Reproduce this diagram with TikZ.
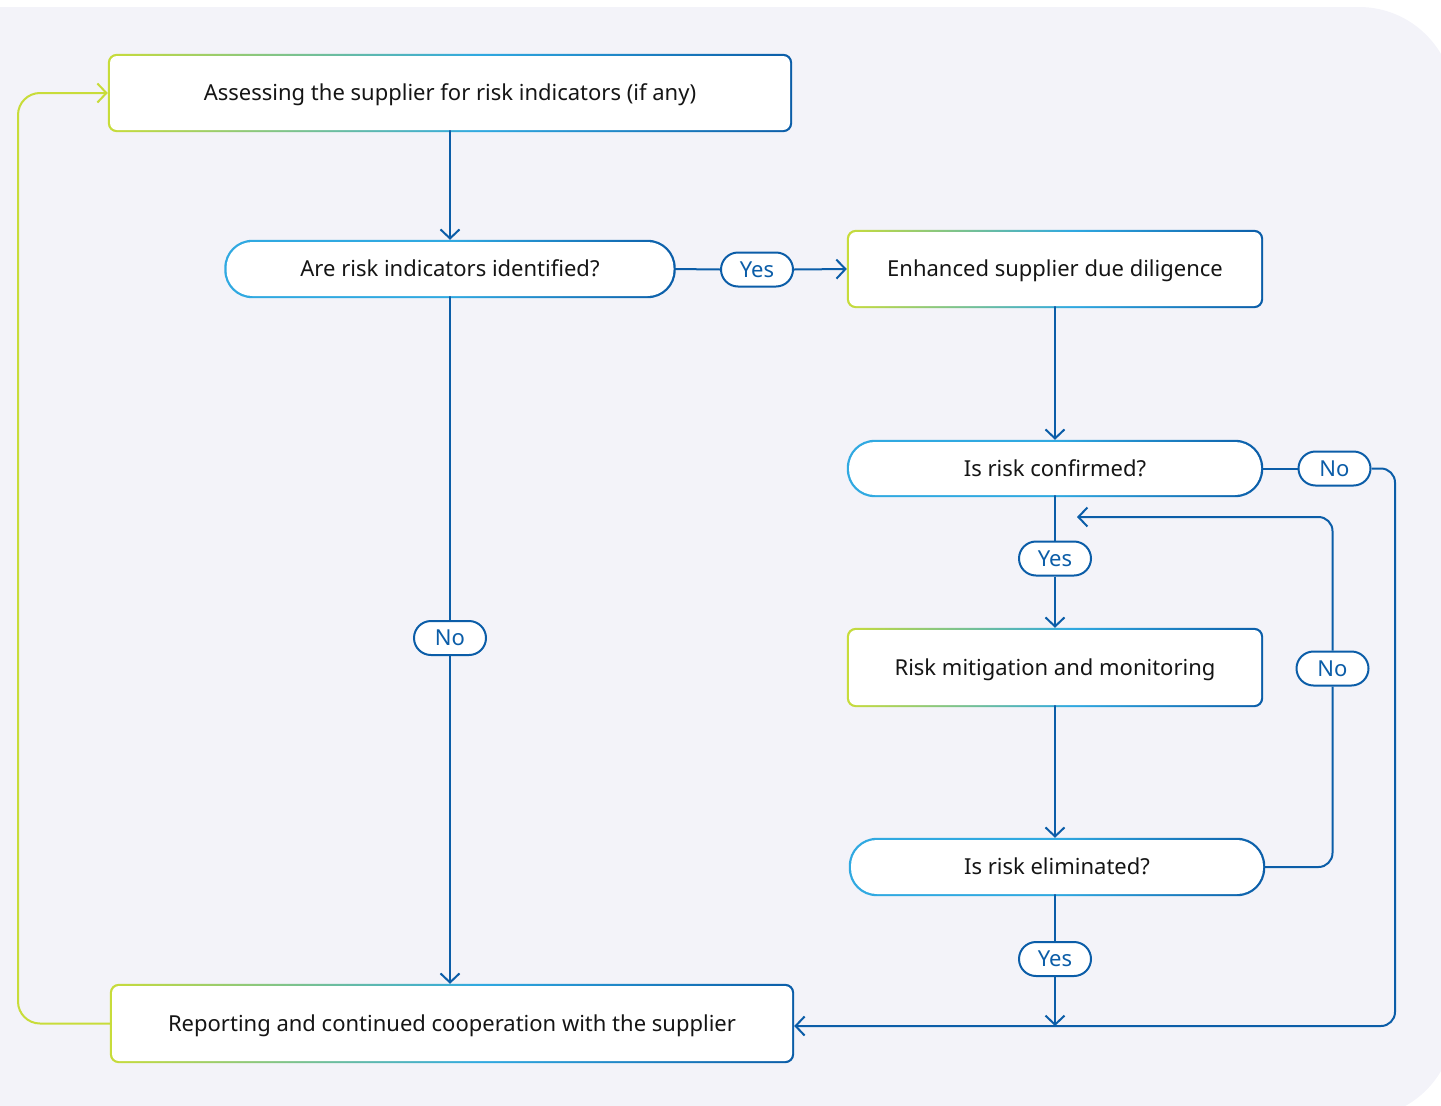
\documentclass[tikz,border=0pt]{standalone}
\usepackage{fontspec}
\setmainfont{Noto Sans}
\usetikzlibrary{arrows.meta,backgrounds}
\definecolor{bgc}{HTML}{F3F3F9}
\definecolor{dblue}{HTML}{0B5DA8}
\definecolor{lblue}{HTML}{30A9E1}
\definecolor{limec}{HTML}{C8DC3A}
\definecolor{txt}{HTML}{151515}
\pgfdeclarehorizontalshading{rectgrad}{100bp}{color(0bp)=(limec); color(25bp)=(limec); color(52bp)=(lblue); color(75bp)=(dblue); color(100bp)=(dblue)}
\pgfdeclarehorizontalshading{stadgrad}{100bp}{color(0bp)=(lblue); color(25bp)=(lblue); color(50bp)=(lblue); color(75bp)=(dblue); color(100bp)=(dblue)}
\pgfdeclarelayer{bg}
\pgfsetlayers{bg,background,main}
\tikzset{
  txtfont/.style={font=\fontsize{22}{26}\selectfont},
  box/.style={rectangle, rounded corners=7, fill=white, inner sep=0, txtfont, text=txt, text height=16, text depth=1},
  stad/.style={rectangle, rounded corners=26, fill=white, inner sep=0, txtfont, text=txt, text height=16, text depth=1},
  pill/.style={rectangle, rounded corners=17, draw=dblue, line width=2pt, fill=white, minimum width=72, minimum height=34, inner sep=0, txtfont, text=dblue, text height=16, text depth=1},
  conn/.style={draw=dblue, line width=2pt},
  arr/.style={-{Straight Barb[length=9pt,width=19pt]}, shorten >=2pt},
  loopc/.style={draw=limec, line width=2pt}
}
\newcommand{\gborder}[3]{%
  \shade[shading=#2, rounded corners=#3] ([shift={(-2,-2)}]#1.north west) rectangle ([shift={(2,2)}]#1.south east);}
\begin{document}
\begin{tikzpicture}[x=1pt,y=-1pt]
\useasboundingbox (0,0) rectangle (1441,1106);
\begin{pgfonlayer}{bg}
  \fill[bgc, rounded corners=95] (-300,7) rectangle (1454,1118);
\end{pgfonlayer}
% nodes
\node[box, minimum width=680, minimum height=74] (b1) at (450,93) {Assessing the supplier for risk indicators (if any)};
\node[stad, minimum width=447, minimum height=54] (d2) at (450,269) {Are risk indicators identified?};
\node[box, minimum width=412, minimum height=74] (b3) at (1055,269) {Enhanced supplier due diligence};
\node[stad, minimum width=412, minimum height=53] (d4) at (1055,468.5) {Is risk confirmed?};
\node[box, minimum width=412, minimum height=75] (b5) at (1055,667.5) {Risk mitigation and monitoring};
\node[stad, minimum width=412, minimum height=54] (d6) at (1057,867) {Is risk eliminated?};
\node[box, minimum width=680, minimum height=75] (b7) at (452,1023.5) {Reporting and continued cooperation with the supplier};
% gradient borders
\begin{pgfonlayer}{background}
  \gborder{b1}{rectgrad}{9}
  \gborder{b3}{rectgrad}{9}
  \gborder{b5}{rectgrad}{9}
  \gborder{b7}{rectgrad}{9}
  \gborder{d2}{stadgrad}{28}
  \gborder{d4}{stadgrad}{28}
  \gborder{d6}{stadgrad}{28}
\end{pgfonlayer}
% labels
\node[pill] (y1) at (757,269.5) {Yes};
\node[pill] (n1) at (450,638) {No};
\node[pill] (n2) at (1334.5,468.5) {No};
\node[pill] (y2) at (1055,558.5) {Yes};
\node[pill] (n3) at (1332.5,668.5) {No};
\node[pill] (y3) at (1055,959) {Yes};
% helper coordinates
\coordinate (rj) at (1395,1026);
\coordinate (fb) at (1075,517);
\coordinate (lx) at (18,0);
% connectors
\begin{pgfonlayer}{background}
\draw[conn, arr] (b1.south) -- (d2.north);
\draw[conn] (d2.east) -- (y1.west);
\draw[conn, arr] (y1.east) -- (b3.west);
\draw[conn] (d2.south) -- (n1.north);
\draw[conn, arr] (n1.south) -- (n1.south |- b7.north);
\draw[conn, arr] (b3.south) -- (d4.north);
\draw[conn] (d4.south) -- (y2.north);
\draw[conn, arr] (y2.south) -- (b5.north);
\draw[conn] (d4.east) -- (n2.west);
\draw[conn, arr, rounded corners=14] (n2.east) -| (rj) -- (b7.east |- rj);
\draw[conn, arr] (b5.south) -- ([xshift=-2]d6.north);
\draw[conn, rounded corners=14] (d6.east) -| (n3.south);
\draw[conn, arr, rounded corners=14] (n3.north) |- (fb);
\draw[conn] ([xshift=-2]d6.south) -- (y3.north);
\draw[conn, -{Straight Barb[length=9pt,width=19pt]}] (y3.south) -- (y3.south |- rj);
\draw[loopc, arr, rounded corners=22] (b7.west) -| (lx |- b1.west) -- (b1.west);
\end{pgfonlayer}
\end{tikzpicture}
\end{document}
